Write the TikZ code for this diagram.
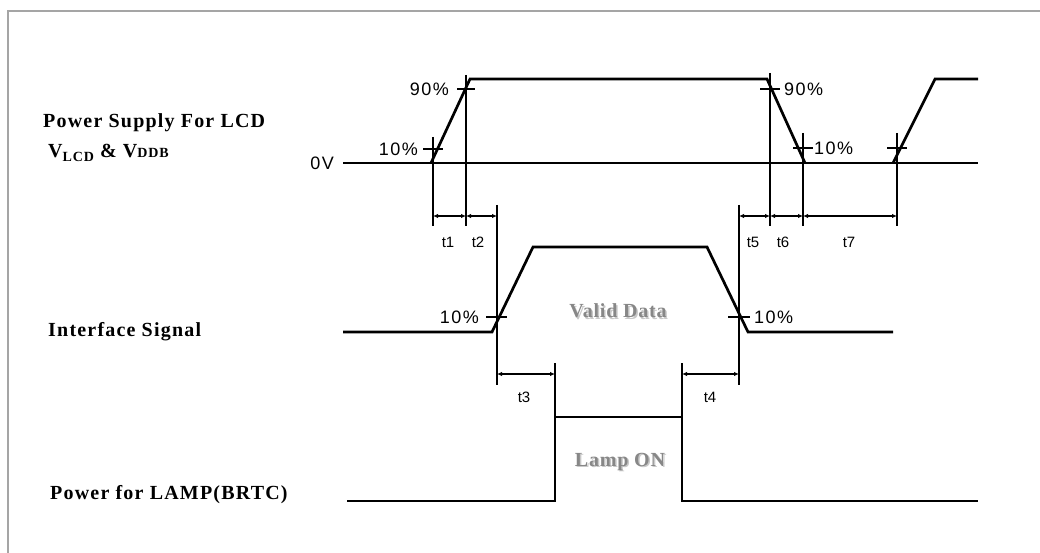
\documentclass[tikz,border=0pt]{standalone}
\usepackage{fontspec}
\setmainfont{Liberation Serif}
\newfontfamily\labfont{Liberation Serif Bold}[LetterSpace=6]
\newfontfamily\grayfont{Liberation Serif Bold}[LetterSpace=4]
\newfontfamily\sansfont{Liberation Sans}[LetterSpace=8]
\newfontfamily\tfont{Liberation Sans}
\usetikzlibrary{arrows.meta}
\definecolor{framegray}{RGB}{165,165,165}
\definecolor{txtgray}{RGB}{135,135,135}
\definecolor{shadowgray}{RGB}{200,200,200}
\tikzset{
  sig/.style={line width=2.7pt},
  thinline/.style={line width=1.1pt},
  dimline/.style={line width=1.1pt,{Latex[length=5pt,width=4.5pt]}-{Latex[length=5pt,width=4.5pt]}},
  pct/.style={font=\sansfont\fontsize{18}{18}\selectfont, inner sep=0pt},
  tlab/.style={font=\tfont\fontsize{15}{15}\selectfont, inner sep=0pt},
  signame/.style={font=\labfont\fontsize{20}{22}\selectfont, inner sep=0pt, anchor=west},
  graylab/.style={font=\grayfont\fontsize{20}{22}\selectfont, inner sep=0pt, text=txtgray},
  shadowlab/.style={font=\grayfont\fontsize{20}{22}\selectfont, inner sep=0pt, text=shadowgray},
}
\begin{document}
\begin{tikzpicture}[x=1pt,y=-1pt]
\useasboundingbox (0,0) rectangle (1040,553);
\draw[framegray, line width=2pt] (8,553) -- (8,11) -- (1040,11);

% signal names
\node[signame] (psl) at (43,123) {Power Supply For LCD};
\node[signame] (vl) at (48,153) {V\raisebox{-4pt}{\fontsize{14}{14}\selectfont LCD} \& V{\fontsize{14}{14}\selectfont DDB}};
\node[signame] (isl) at (48,332) {Interface Signal};
\node[signame] (pll) at (50,495) {Power for LAMP(BRTC)};

% waveforms
\draw[sig] (343,163) -- (978,163);
\draw[sig] (431,163) -- (470,79) -- (767,79) -- (805,163);
\draw[sig] (893,163) -- (935,79) -- (978,79);
\draw[sig] (343,332) -- (492,332) -- (533,247) -- (707,247) -- (748,332) -- (893,332);
\draw[sig] (347,501) -- (555,501) -- (555,417) -- (682,417) -- (682,501) -- (978,501);

% marker coordinates
\coordinate (a1) at (433,216); \coordinate (a2) at (466,216); \coordinate (a3) at (497,216);
\coordinate (a5) at (739,216); \coordinate (a6) at (770,216); \coordinate (a7) at (803,216); \coordinate (a8) at (897,216);
\coordinate (b3) at (497,374); \coordinate (b4) at (555,374); \coordinate (b5) at (682,374); \coordinate (b6) at (739,374);

% vertical reference lines
\draw[thinline] (433,137) -- (433,226);
\draw[thinline] (466,75) -- (466,226);
\draw[thinline] (497,205) -- (497,385);
\draw[thinline] (739,205) -- (739,385);
\draw[thinline] (770,73) -- (770,226);
\draw[thinline] (803,133) -- (803,226);
\draw[thinline] (897,133) -- (897,226);
\draw[thinline] (555,363) -- (555,417);
\draw[thinline] (682,363) -- (682,417);

% level ticks
\draw[thinline] (423,149) -- (443,149);
\draw[thinline] (457,89) -- (475,89);
\draw[thinline] (760,89) -- (780,89);
\draw[thinline] (793,148) -- (813,148);
\draw[thinline] (887,148) -- (907,148);
\draw[thinline] (486,317) -- (507,317);
\draw[thinline] (728,317) -- (750,317);

% dimension arrows
\draw[dimline] (a1) -- (a2);
\draw[dimline] (a2) -- (a3);
\draw[dimline] (a5) -- (a6);
\draw[dimline] (a6) -- (a7);
\draw[dimline] (a7) -- (a8);
\draw[dimline] (b3) -- (b4);
\draw[dimline] (b5) -- (b6);

% time labels
\node[tlab] (t1) at (448,242) {t1};
\node[tlab] (t2) at (478,242) {t2};
\node[tlab] (t5) at (753,242) {t5};
\node[tlab] (t6) at (783,242) {t6};
\node[tlab] (t7) at (849,242) {t7};
\node[tlab] (t3) at (524,397) {t3};
\node[tlab] (t4) at (710,397) {t4};

% level labels
\node[pct,anchor=east] (l90a) at (449,89) {90\%};
\node[pct,anchor=east] (l10a) at (418,149) {10\%};
\node[pct,anchor=east] (l0v) at (334,163) {0V};
\node[pct,anchor=west] (l90b) at (784,89) {90\%};
\node[pct,anchor=west] (l10b) at (814,148) {10\%};
\node[pct,anchor=east] (l10c) at (479,317) {10\%};
\node[pct,anchor=west] (l10d) at (754,317) {10\%};

% gray labels
\node[shadowlab] (vds) at (619.5,312.5) {Valid Data};
\node[graylab] (vd) at (618,311) {Valid Data};
\node[shadowlab] (lons) at (621.5,463.5) {Lamp ON};
\node[graylab] (lon) at (620,462) {Lamp ON};
\end{tikzpicture}
\end{document}
